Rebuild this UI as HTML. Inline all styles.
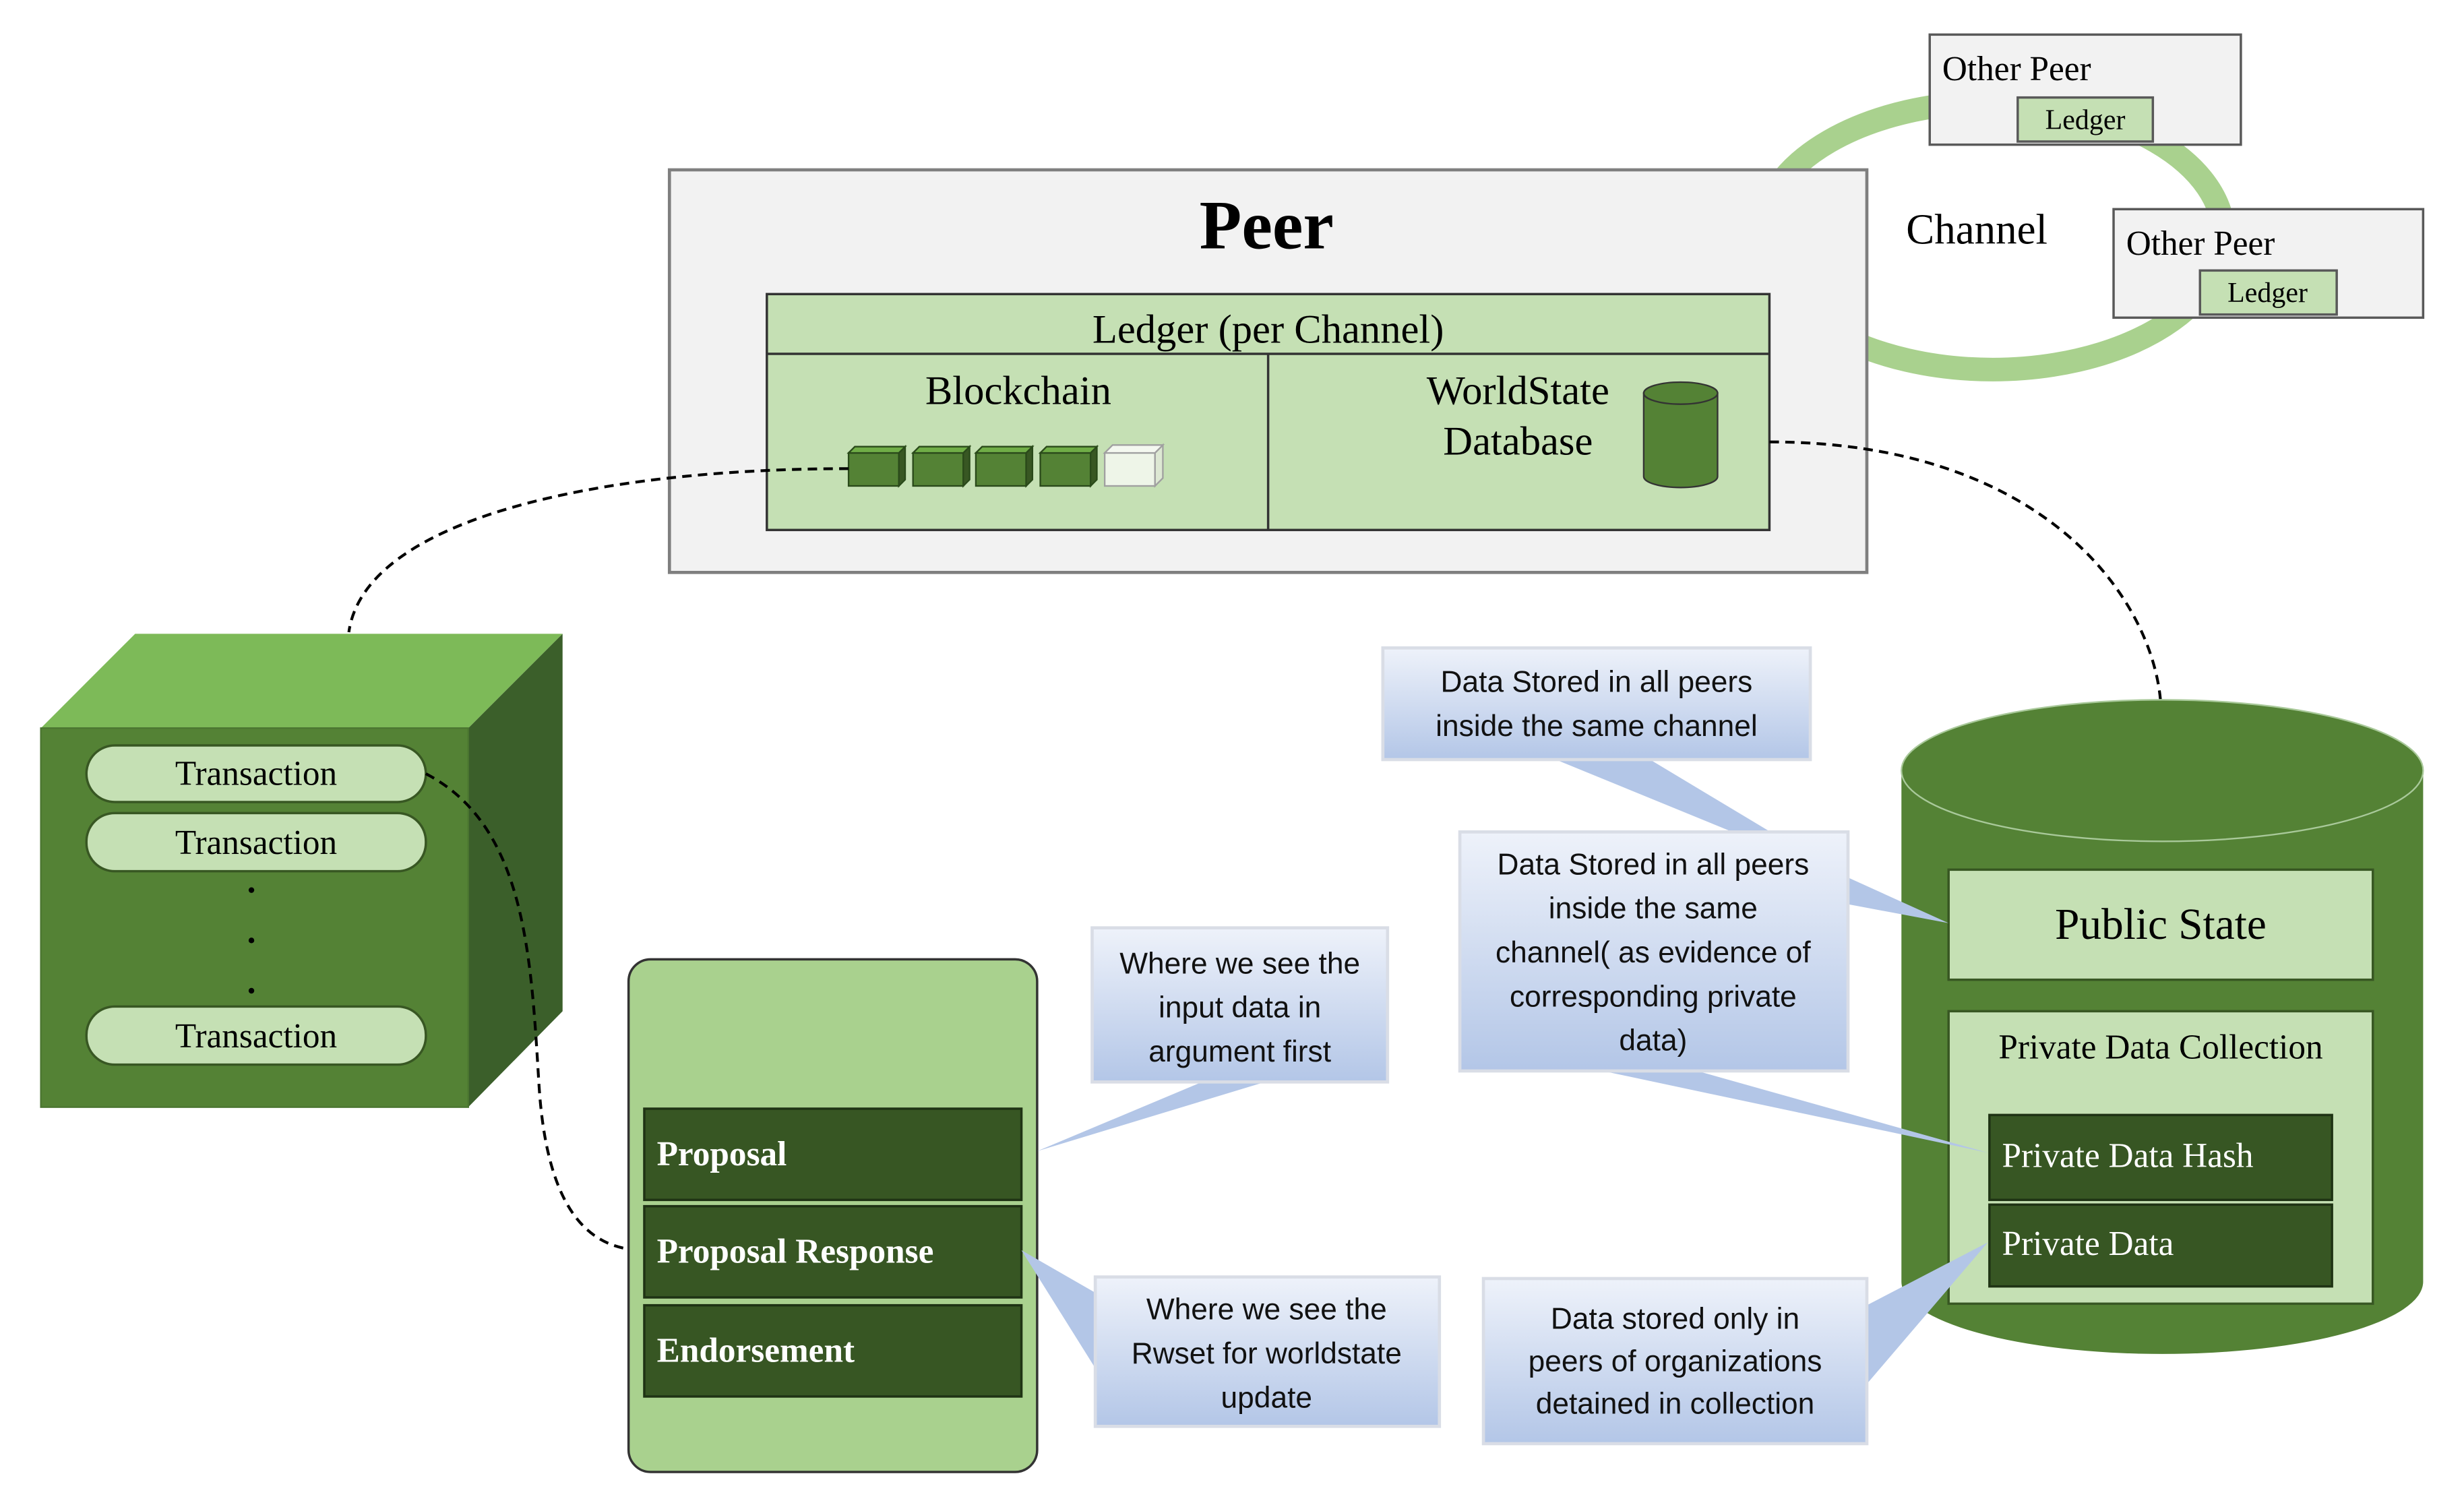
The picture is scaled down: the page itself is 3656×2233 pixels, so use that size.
<!DOCTYPE html>
<html><head><meta charset="utf-8"><style>
html,body{margin:0;padding:0;background:#fff;}
svg{display:block;}
.serif{font-family:"Liberation Serif",serif;}
.sans{font-family:"Liberation Sans",sans-serif;}
</style></head><body>
<svg width="3656" height="2233" viewBox="0 0 1568 957" preserveAspectRatio="none" xmlns="http://www.w3.org/2000/svg">
<defs>
<linearGradient id="cg" x1="0" y1="0" x2="0" y2="1">
<stop offset="0" stop-color="#eef2fa"/><stop offset="1" stop-color="#b3c6e7"/>
</linearGradient>
</defs>
<rect width="1568" height="957" fill="#fff"/>
<!-- channel ring -->
<ellipse cx="1268" cy="150" rx="147" ry="85" fill="none" stroke="#a9d18e" stroke-width="15"/>
<!-- other peers -->
<rect x="1228" y="22" width="198" height="70" fill="#f2f2f2" stroke="#595959" stroke-width="1.5"/>
<text x="1236" y="51" class="serif" font-size="22">Other Peer</text>
<rect x="1284" y="62" width="86" height="28" fill="#c5e0b4" stroke="#595959" stroke-width="1.5"/>
<text x="1327" y="82" class="serif" font-size="18" text-anchor="middle">Ledger</text>
<rect x="1345" y="133" width="197" height="69" fill="#f2f2f2" stroke="#595959" stroke-width="1.5"/>
<text x="1353" y="162" class="serif" font-size="22">Other Peer</text>
<rect x="1400" y="172" width="87" height="28" fill="#c5e0b4" stroke="#595959" stroke-width="1.5"/>
<text x="1443" y="192" class="serif" font-size="18" text-anchor="middle">Ledger</text>
<text x="1213" y="155" class="serif" font-size="27">Channel</text>
<!-- Peer -->
<rect x="426" y="108" width="762" height="256" fill="#f2f2f2" stroke="#7f7f7f" stroke-width="2"/>
<text x="806" y="158" class="serif" font-size="44" font-weight="bold" text-anchor="middle">Peer</text>
<rect x="488" y="187" width="638" height="150" fill="#c5e0b4" stroke="#333" stroke-width="1.5"/>
<line x1="488" y1="225" x2="1126" y2="225" stroke="#333" stroke-width="1.5"/>
<line x1="807" y1="225" x2="807" y2="337" stroke="#333" stroke-width="1.5"/>
<text x="807" y="218" class="serif" font-size="26" text-anchor="middle">Ledger (per Channel)</text>
<text x="648" y="257" class="serif" font-size="26" text-anchor="middle">Blockchain</text>
<text x="966" y="257" class="serif" font-size="26" text-anchor="middle">WorldState</text>
<text x="966" y="289" class="serif" font-size="26" text-anchor="middle">Database</text>
<!-- db cylinder small -->
<path d="M1046,250 L1046,303 A23.5,7 0 0 0 1093,303 L1093,250 Z" fill="#548235" stroke="#333" stroke-width="1"/>
<ellipse cx="1069.5" cy="250" rx="23.5" ry="7" fill="#548235" stroke="#333" stroke-width="1"/>
<!-- blocks -->
<g stroke="#2a4a1a" stroke-width="1">
<rect x="540" y="288" width="32" height="21" fill="#548235"/><polygon points="572,288 576,284 576,305 572,309" fill="#385723"/><polygon points="540,288 544,284 576,284 572,288" fill="#70ad47"/>
<rect x="581" y="288" width="32" height="21" fill="#548235"/><polygon points="613,288 617,284 617,305 613,309" fill="#385723"/><polygon points="581,288 585,284 617,284 613,288" fill="#70ad47"/>
<rect x="621" y="288" width="32" height="21" fill="#548235"/><polygon points="653,288 657,284 657,305 653,309" fill="#385723"/><polygon points="621,288 625,284 657,284 653,288" fill="#70ad47"/>
<rect x="662" y="288" width="32" height="21" fill="#548235"/><polygon points="694,288 698,284 698,305 694,309" fill="#385723"/><polygon points="662,288 666,284 698,284 694,288" fill="#70ad47"/>
</g>
<g stroke="#a0a0a0" stroke-width="1">
<rect x="703" y="288" width="32" height="21" fill="#eef5e8"/><polygon points="735,288 740,283 740,304 735,309" fill="#dde8d3"/><polygon points="703,288 708,283 740,283 735,288" fill="#f4f8f0"/>
</g>
<!-- cube -->
<polygon points="26,463 86,403 358,403 298,463" fill="#7dba58"/>
<polygon points="298,463 358,403 358,643 298,704" fill="#3b5f2a"/>
<rect x="26" y="463" width="272" height="241" fill="#548235" stroke="#4a7530" stroke-width="1"/>
<g stroke="#385723" stroke-width="1.5" fill="#c5e0b4">
<rect x="55" y="474" width="216" height="36" rx="18"/>
<rect x="55" y="517" width="216" height="37" rx="18"/>
<rect x="55" y="640" width="216" height="37" rx="18"/>
</g>
<g class="serif" font-size="22" text-anchor="middle">
<text x="163" y="499">Transaction</text>
<text x="163" y="543">Transaction</text>
<text x="163" y="666">Transaction</text>
</g>
<circle cx="160" cy="566" r="1.8"/><circle cx="160" cy="598" r="1.8"/><circle cx="160" cy="630" r="1.8"/>
<!-- dashed connectors -->
<g fill="none" stroke="#000" stroke-width="1.8" stroke-dasharray="6,4">
<path d="M540,298 C380,298 232,330 222,402"/>
<path d="M1126,281 C1300,281 1370,380 1375,447"/>
<path d="M271,492 C335,525 338,610 343,690 C348,770 375,795 410,795"/>
</g>
<!-- proposal container -->
<rect x="400" y="610" width="260" height="326" rx="14" fill="#a9d18e" stroke="#333" stroke-width="1.5"/>
<g fill="#375623" stroke="#1f3314" stroke-width="1.5">
<rect x="410" y="705" width="240" height="58"/>
<rect x="410" y="767" width="240" height="58"/>
<rect x="410" y="830" width="240" height="58"/>
</g>
<g class="serif" font-size="22" font-weight="bold" fill="#fff">
<text x="418" y="741">Proposal</text>
<text x="418" y="803">Proposal Response</text>
<text x="418" y="866">Endorsement</text>
</g>
<!-- big cylinder -->
<path d="M1210,490 L1210,815 A166,46 0 0 0 1542,815 L1542,490 Z" fill="#548235"/>
<ellipse cx="1376" cy="490" rx="166" ry="45" fill="#548235" stroke="#a9c99a" stroke-width="1"/>
<rect x="1240" y="553" width="270" height="70" fill="#c5e0b4" stroke="#385723" stroke-width="1.5"/>
<text x="1375" y="597" class="serif" font-size="28" text-anchor="middle">Public State</text>
<rect x="1240" y="643" width="270" height="186" fill="#c5e0b4" stroke="#385723" stroke-width="1.5"/>
<text x="1375" y="673" class="serif" font-size="22" text-anchor="middle">Private Data Collection</text>
<rect x="1266" y="709" width="218" height="54" fill="#375623" stroke="#1f3314" stroke-width="1.5"/>
<rect x="1266" y="766" width="218" height="52" fill="#375623" stroke="#1f3314" stroke-width="1.5"/>
<text x="1274" y="742" class="serif" font-size="22" fill="#fff">Private Data Hash</text>
<text x="1274" y="798" class="serif" font-size="22" fill="#fff">Private Data</text>
<!-- callout pointers -->
<g fill="#b3c6e7">
<polygon points="765,688 805,688 660,732"/>
<polygon points="697,822 697,870 650,795"/>
<polygon points="990,483 1050,483 1125,528 1100,528"/>
<polygon points="1176,558 1176,575 1240,587"/>
<polygon points="1020,681 1080,681 1265,733"/>
<polygon points="1188,830 1188,880 1265,790"/>
</g>
<!-- callouts -->
<g stroke="#d9dde6" stroke-width="2" fill="url(#cg)">
<rect x="695" y="590" width="188" height="98"/>
<rect x="697" y="812" width="219" height="95"/>
<rect x="880" y="412" width="272" height="71"/>
<rect x="929" y="529" width="247" height="152"/>
<rect x="944" y="813" width="244" height="105"/>
</g>
<g class="sans" font-size="19" text-anchor="middle" fill="#111">
<text x="789" y="619">Where we see the</text>
<text x="789" y="647">input data in</text>
<text x="789" y="675">argument first</text>
<text x="806" y="839">Where we see the</text>
<text x="806" y="867">Rwset for worldstate</text>
<text x="806" y="895">update</text>
<text x="1016" y="440">Data Stored in all peers</text>
<text x="1016" y="468">inside the same channel</text>
<text x="1052" y="556">Data Stored in all peers</text>
<text x="1052" y="584">inside the same</text>
<text x="1052" y="612">channel( as evidence of</text>
<text x="1052" y="640">corresponding private</text>
<text x="1052" y="668">data)</text>
<text x="1066" y="845">Data stored only in</text>
<text x="1066" y="872">peers of organizations</text>
<text x="1066" y="899">detained in collection</text>
</g>
</svg>
</body></html>
